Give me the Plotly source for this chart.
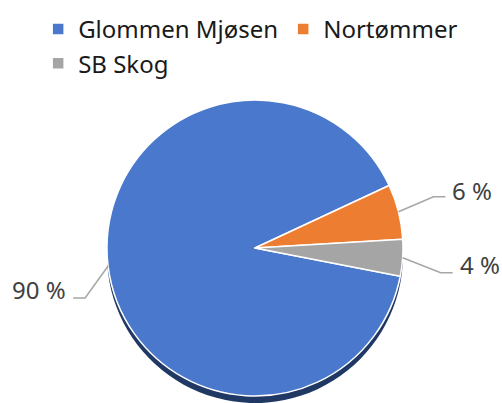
import math
import plotly.graph_objects as go

labels = ["Glommen Mjøsen", "Nortømmer", "SB Skog"]
values = [90, 6, 4]
label_text = ["90 %", "6 %", "4 %"]
colors = ["#4a78cc", "#ed7d31", "#a5a5a5"]

W, H = 502, 403
cx, cy, r = 255, 248, 148
shadow = 7
rotation = 101
# leader-line styling: (elbow dx, elbow dy, horizontal run, text y shift)
leader_style = [(-23, 32, -12, 9), (35, -15, 12, 6), (38, 15, 12, 8)]

def dom(cx, cy, r):
    return dict(x=[(cx - r) / W, (cx + r) / W],
                y=[max(0, (H - cy - r) / H), min(1, (H - cy + r) / H)])

def px(x, y):
    return x / W, 1 - y / H

fig = go.Figure()
fig.add_trace(go.Pie(
    labels=labels, values=values, sort=False, direction="clockwise",
    rotation=rotation, domain=dom(cx, cy + shadow, r),
    marker=dict(colors=["#1f3864"] * 3, line=dict(width=0)),
    textinfo="none", showlegend=False, hoverinfo="skip",
))
fig.add_trace(go.Pie(
    labels=labels, values=values, sort=False, direction="clockwise",
    rotation=rotation, domain=dom(cx, cy, r),
    marker=dict(colors=colors, line=dict(color="white", width=1.5)),
    textinfo="none",
))

total = sum(values)
start = rotation
shapes, annotations = [], []
for v, t, (edx, edy, run, ys) in zip(values, label_text, leader_style):
    mid = start + 360 * v / total / 2
    start += 360 * v / total
    a = math.radians(mid)
    ex, ey = cx + r * math.sin(a), cy - r * math.cos(a)
    bx, by = ex + edx, ey + edy
    fx, fy = bx + run, by
    p = [px(ex, ey), px(bx, by), px(fx, fy)]
    shapes.append(dict(type="path", xref="paper", yref="paper",
                       path="M %f %f L %f %f L %f %f" % (p[0] + p[1] + p[2]),
                       line=dict(color="#a6a6a6", width=1.5)))
    tx = fx + (5 if run > 0 else -5)
    annotations.append(dict(text=t, xref="paper", yref="paper",
                            x=tx / W, y=1 - (by - ys) / H,
                            xanchor="left" if run > 0 else "right",
                            yanchor="middle", showarrow=False,
                            font=dict(size=24, color="#404040")))

fig.update_layout(
    width=W, height=H,
    margin=dict(l=0, r=0, t=0, b=0),
    paper_bgcolor="white",
    font=dict(family="Noto Sans", color="#1a1a1a"),
    shapes=shapes, annotations=annotations,
    legend=dict(orientation="h", x=0.076, y=1 - 7 / H, xanchor="left", yanchor="top",
                font=dict(size=24, color="#1a1a1a")),
)
fig.write_html("out.html", config={"displayModeBar": False},
               post_script="document.body.style.margin='0';")
